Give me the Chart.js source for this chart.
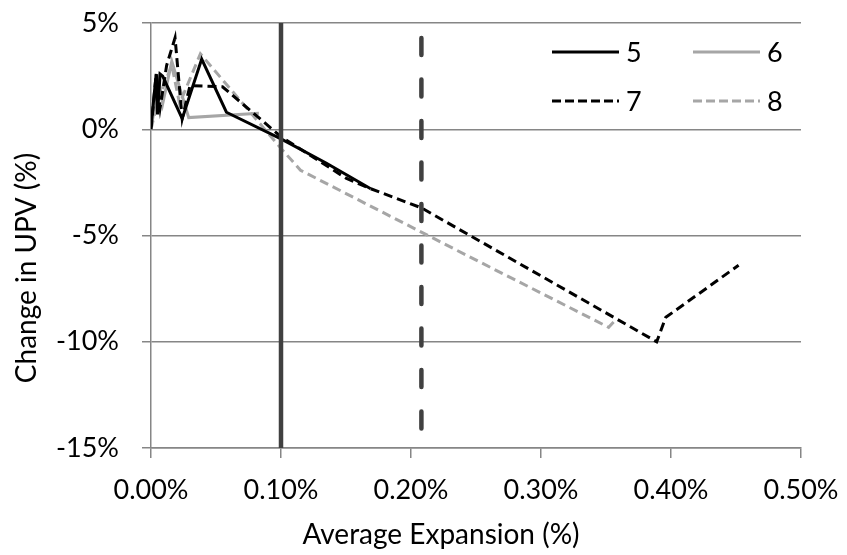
<!DOCTYPE html>
<html>
<head>
<meta charset="utf-8">
<script src="https://cdn.jsdelivr.net/npm/chart.js@4.4.1/dist/chart.umd.min.js"></script>
<style>
  body { margin: 0; background: #fff; }
  #wrap { width: 847px; height: 555px; }
</style>
</head>
<body>
<div id="wrap"><canvas id="myChart" width="847" height="555"></canvas></div>
<script>
// series values (x = average expansion %, y = change in UPV %)
const s5X = [0.000, 0.004, 0.005, 0.007, 0.009, 0.024, 0.039, 0.058, 0.100, 0.135, 0.169];
const s5Y = [0.1, 2.6, 0.7, 2.6, 2.5, 0.5, 3.3, 0.8, -0.45, -1.6, -2.8];

const s6X = [0.000, 0.006, 0.009, 0.016, 0.029, 0.083];
const s6Y = [0.0, 2.3, 1.2, 3.2, 0.55, 0.75];

const s7X = [0.000, 0.004, 0.007, 0.012, 0.0185, 0.024, 0.030, 0.055, 0.100, 0.150, 0.169, 0.208, 0.389, 0.396, 0.452];
const s7Y = [0.0, 2.6, 1.0, 3.0, 4.3, 0.5, 2.05, 2.0, -0.35, -2.3, -2.8, -3.7, -10.0, -8.85, -6.4];

const s8X = [0.000, 0.006, 0.016, 0.022, 0.038, 0.100, 0.115, 0.253, 0.352, 0.357];
const s8Y = [0.0, 1.5, 3.0, 1.2, 3.55, -0.9, -1.93, -6.25, -9.32, -9.0];

// reference lines
const solidRefX = 0.10;
const dashedRefX = 0.208;

const seriesNames = ['5', '6', '7', '8'];
const xTicks = [0, 0.1, 0.2, 0.3, 0.4, 0.5];
const yTicks = [5, 0, -5, -10, -15];

const FONT = 'Lato, "Open Sans", sans-serif';
const BLACK = '#000000';
const GREY = '#a6a6a6';
const AXIS = '#868686';
const REF = '#404040';

function pts(xs, ys) {
  return xs.map((x, i) => ({ x: x, y: ys[i] }));
}

const lineBase = { fill: false, tension: 0, pointRadius: 0, borderWidth: 3 };

const data = {
  datasets: [
    { ...lineBase, label: 'ref', data: [{ x: solidRefX, y: 5 }, { x: solidRefX, y: -15 }],
      borderColor: REF, borderWidth: 4.5 },
    { ...lineBase, label: 'ref2', data: [{ x: dashedRefX, y: 4.3 }, { x: dashedRefX, y: -14.3 }],
      borderColor: REF, borderWidth: 4.5, borderDash: [17, 24.5], borderCapStyle: 'round' },
    { ...lineBase, label: seriesNames[2], data: pts(s7X, s7Y), borderColor: BLACK, borderDash: [9, 5] },
    { ...lineBase, label: seriesNames[0], data: pts(s5X, s5Y), borderColor: BLACK },
    { ...lineBase, label: seriesNames[3], data: pts(s8X, s8Y), borderColor: GREY, borderDash: [9, 5] },
    { ...lineBase, label: seriesNames[1], data: pts(s6X, s6Y), borderColor: GREY }
  ]
};

// legend (2 x 2, inside the plot) and the axis titles
const extras = {
  id: 'extras',
  afterDraw(chart) {
    const ctx = chart.ctx;
    const items = [
      { name: seriesNames[0], col: 0, row: 0, color: BLACK, dash: [] },
      { name: seriesNames[1], col: 1, row: 0, color: GREY, dash: [] },
      { name: seriesNames[2], col: 0, row: 1, color: BLACK, dash: [9, 4] },
      { name: seriesNames[3], col: 1, row: 1, color: GREY, dash: [9, 4] }
    ];
    ctx.save();
    ctx.font = '27px ' + FONT;
    ctx.textBaseline = 'middle';
    ctx.fillStyle = '#000';
    items.forEach(it => {
      const x0 = 552 + it.col * 141;
      const y0 = 52 + it.row * 49;
      ctx.beginPath();
      ctx.setLineDash(it.dash);
      ctx.lineWidth = 3;
      ctx.strokeStyle = it.color;
      ctx.moveTo(x0, y0);
      ctx.lineTo(x0 + 67, y0);
      ctx.stroke();
      ctx.setLineDash([]);
      ctx.fillText(it.name, x0 + 74, y0 + 1);
    });

    ctx.font = '28px ' + FONT;
    ctx.textAlign = 'center';
    ctx.fillText('Average Expansion (%)', 441, 535);
    ctx.translate(27, 268);
    ctx.rotate(-Math.PI / 2);
    ctx.fillText('Change in UPV (%)', 0, 0);
    ctx.restore();
  }
};

const config = {
  type: 'line',
  data: data,
  options: {
    responsive: false,
    animation: false,
    layout: { padding: { top: 23, right: 46, left: 0, bottom: 0 } },
    plugins: { legend: { display: false }, tooltip: { enabled: false } },
    scales: {
      x: {
        type: 'linear',
        min: 0, max: 0.5,
        afterFit(scale) { scale.height = 107; scale.paddingLeft = 0; scale.paddingRight = 0; },
        afterBuildTicks(scale) { scale.ticks = xTicks.map(v => ({ value: v })); },
        grid: { drawOnChartArea: false, drawTicks: true, tickLength: 10, color: AXIS, lineWidth: 1.5 },
        border: { display: true, color: AXIS, width: 1.5 },
        ticks: {
          color: '#000', padding: 16, maxRotation: 0,
          font: { family: FONT, size: 27 },
          callback: v => v.toFixed(2) + '%'
        }
      },
      y: {
        type: 'linear',
        min: -15, max: 5,
        afterFit(scale) { scale.width = 151; scale.paddingTop = 0; scale.paddingBottom = 0; },
        afterBuildTicks(scale) { scale.ticks = yTicks.map(v => ({ value: v })); },
        grid: { drawOnChartArea: true, drawTicks: true, tickLength: 9, color: AXIS, lineWidth: 1.5 },
        border: { display: true, color: AXIS, width: 1.5 },
        ticks: {
          color: '#000', padding: 23,
          font: { family: FONT, size: 27 },
          callback: v => v + '%'
        }
      }
    }
  },
  plugins: [extras]
};

let myChart = new Chart(document.getElementById('myChart').getContext('2d'), config);
</script>
</body>
</html>
